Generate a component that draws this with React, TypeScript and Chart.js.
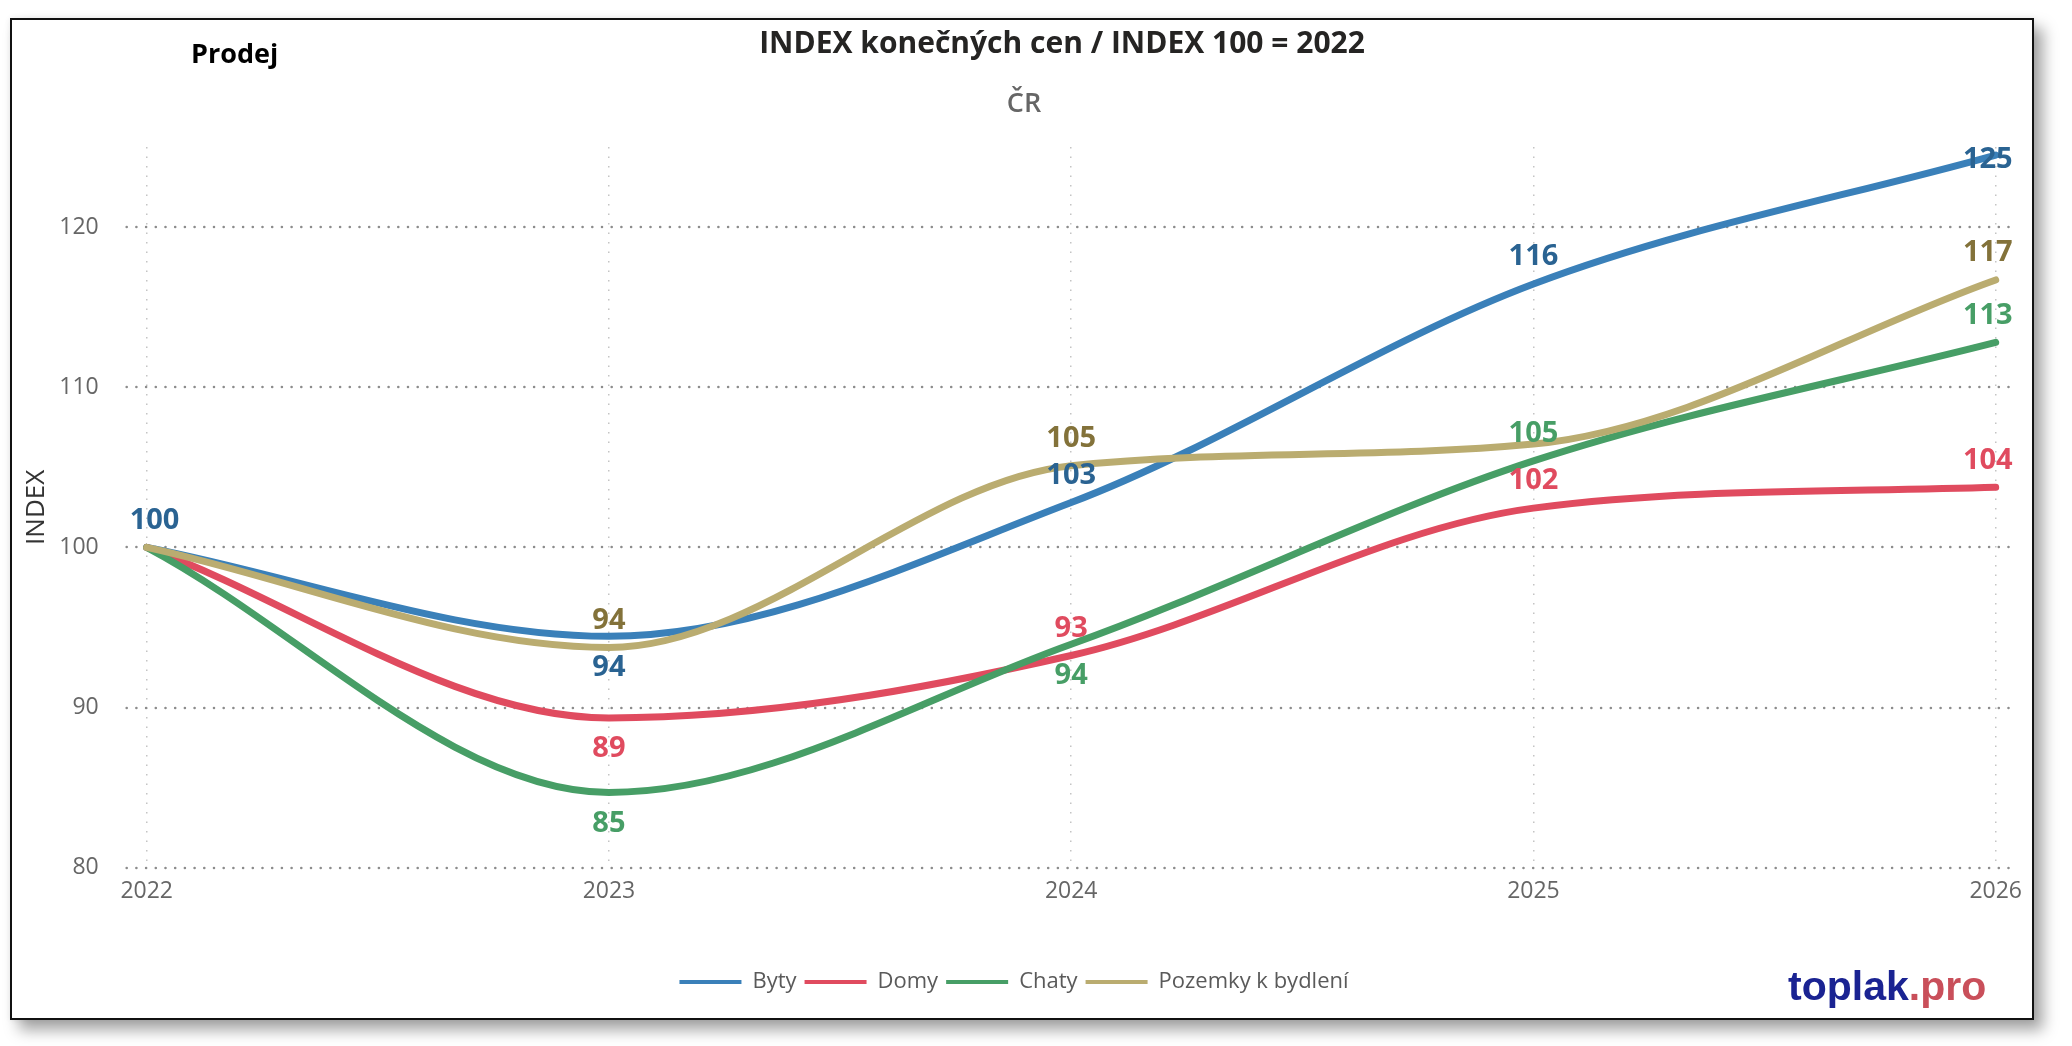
import React, { useEffect, useRef } from "react";
import { Chart, registerables } from "chart.js";

Chart.register(...registerables);

const FONT = "'Open Sans', 'Noto Sans', sans-serif";

const YEARS = ["2022", "2023", "2024", "2025", "2026"];
const BYTY = [100, 94.45, 102.8, 116.45, 124.5];
const DOMY = [100, 89.35, 93.25, 102.45, 103.75];
const CHATY = [100, 84.7, 93.95, 105.4, 112.8];
const POZEMKY = [100, 93.75, 105.1, 106.45, 116.7];
const SERIES_NAMES = ["Byty", "Domy", "Chaty", "Pozemky k bydlení"];
const Y_TICKS = [80, 90, 100, 110, 120];

const LINE_COLORS = ["#3A80B9", "#E04B5F", "#479E66", "#BAAC70"];
const LABEL_COLORS = ["#2A6392", "#E04B5F", "#479E66", "#83723A"];
// where each value label sits relative to its point
const LABEL_PLACE = [
  ["above", "below", "above", "above", "center"],
  ["none", "below", "above", "above", "above"],
  ["none", "below", "below", "above", "above"],
  ["none", "above", "above", "none", "above"],
];

const hGridPlugin = {
  id: "hGrid",
  beforeDatasetsDraw(chart: any) {
    const { ctx, chartArea, scales } = chart;
    const y = scales.y;
    ctx.save();
    ctx.strokeStyle = "#8c8c8c";
    ctx.lineWidth = 2.6;
    ctx.lineCap = "round";
    ctx.setLineDash([0, 9.7]);
    y.ticks.forEach((t: any) => {
      const py = Math.round(y.getPixelForValue(t.value));
      ctx.beginPath();
      ctx.moveTo(chartArea.left - 20, py);
      ctx.lineTo(chartArea.right + 15, py);
      ctx.stroke();
    });
    ctx.restore();
  },
};

const labelPlugin = {
  id: "valueLabels",
  afterDatasetsDraw(chart: any) {
    const { ctx, chartArea } = chart;
    ctx.save();
    ctx.font = `bold 29px ${FONT}`;
    ctx.textAlign = "center";
    ctx.textBaseline = "middle";
    chart.data.datasets.forEach((ds: any, di: number) => {
      const meta = chart.getDatasetMeta(di);
      meta.data.forEach((pt: any, i: number) => {
        const place = LABEL_PLACE[di][i];
        if (place === "none") return;
        const text = String(Math.round(ds.data[i]));
        const w = ctx.measureText(text).width;
        let x = pt.x;
        const maxR = chartArea.right + 17;
        const minL = chartArea.left - 17;
        if (x + w / 2 > maxR) x = maxR - w / 2;
        if (x - w / 2 < minL) x = minL + w / 2;
        const dy = place === "above" ? -27 : place === "below" ? 31 : 5;
        ctx.fillStyle = LABEL_COLORS[di];
        ctx.fillText(text, x, pt.y + dy);
      });
    });
    ctx.restore();
  },
};

export default function App() {
  const ref = useRef<HTMLCanvasElement>(null);

  useEffect(() => {
    document.body.style.margin = "0";
    Chart.defaults.font.family = FONT;
    const series = [BYTY, DOMY, CHATY, POZEMKY];
    const chart = new Chart(ref.current as HTMLCanvasElement, {
      type: "line",
      data: {
        labels: YEARS,
        datasets: series.map((d, i) => ({
          label: SERIES_NAMES[i],
          data: d,
          borderColor: LINE_COLORS[i],
          backgroundColor: LINE_COLORS[i],
          borderWidth: 7,
          pointRadius: 0,
          pointHoverRadius: 0,
          cubicInterpolationMode: "monotone",
          borderCapStyle: "round",
          borderJoinStyle: "round",
          fill: false,
          clip: false,
          order: 3 - i,
        })),
      } as any,
      options: {
        animation: false,
        responsive: false,
        events: [],
        layout: { padding: { top: 127, left: 20, right: 36, bottom: 15 } },
        scales: {
          x: {
            type: "category",
            offset: false,
            grid: { color: "#c4c4c4", lineWidth: 1.5, drawTicks: false },
            border: { display: false, dash: [1.5, 8] },
            ticks: { color: "#666", font: { size: 23 }, padding: 10, maxRotation: 0 },
            afterFit: (s: any) => {
              s.height = 95.3;
            },
          } as any,
          y: {
            type: "linear",
            min: 80,
            max: 125,
            afterBuildTicks: (s: any) => {
              s.ticks = Y_TICKS.map((v) => ({ value: v }));
            },
            grid: { display: false },
            border: { display: false },
            ticks: { color: "#666", font: { size: 23 }, padding: 40 },
            title: {
              display: true,
              text: "INDEX",
              color: "#333",
              font: { size: 26 },
              padding: { top: -10.6, bottom: 0 },
            },
            afterFit: (s: any) => {
              s.width = 114.7;
            },
          } as any,
        },
        plugins: {
          tooltip: { enabled: false },
          title: { display: false },
          legend: {
            position: "bottom",
            labels: {
              boxWidth: 62,
              boxHeight: 4,
              padding: 8,
              color: "#5a5a5a",
              font: { size: 22 },
              sort: (a: any, b: any) => a.datasetIndex - b.datasetIndex,
              generateLabels: (c: any) =>
                (Chart.defaults.plugins.legend.labels.generateLabels as any)(c).map((it: any) => ({
                  ...it,
                  lineWidth: 0,
                })),
            },
          },
        },
      } as any,
      plugins: [hGridPlugin, labelPlugin],
    });
    return () => chart.destroy();
  }, []);

  return (
    <div
      style={{
        position: "relative",
        width: 2072,
        height: 1046,
        overflow: "hidden",
        background: "#fff",
        fontFamily: FONT,
      }}
    >
      <style>{`html,body{margin:0;padding:0;}`}</style>
      <div
        style={{
          position: "absolute",
          left: 10,
          top: 18,
          width: 2024,
          height: 1002,
          boxSizing: "border-box",
          border: "2px solid #111",
          background: "#fff",
          boxShadow: "9px 10px 14px rgba(0,0,0,0.36), 0 0 6px rgba(0,0,0,0.08)",
        }}
      >
        <canvas
          ref={ref}
          width={2020}
          height={998}
          style={{ position: "absolute", left: 0, top: 0, width: 2020, height: 998 }}
        />
        <div
          style={{
            position: "absolute",
            left: 179,
            top: 19,
            fontWeight: 700,
            fontSize: 27,
            lineHeight: 1,
            color: "#000",
            whiteSpace: "nowrap",
          }}
        >
          Prodej
        </div>
        <div
          style={{
            position: "absolute",
            left: 1050,
            top: 7,
            transform: "translateX(-50%)",
            fontWeight: 700,
            fontSize: 30,
            lineHeight: 1,
            color: "#252423",
            whiteSpace: "nowrap",
          }}
        >
          INDEX konečných cen / INDEX 100 = 2022
        </div>
        <div
          style={{
            position: "absolute",
            left: 1012,
            top: 68,
            transform: "translateX(-50%)",
            fontWeight: 600,
            fontSize: 27,
            lineHeight: 1,
            color: "#666",
            whiteSpace: "nowrap",
          }}
        >
          ČR
        </div>
        <div
          style={{
            position: "absolute",
            left: 1776,
            top: 946,
            fontFamily: "'Liberation Sans', Arial, sans-serif",
            fontWeight: 700,
            fontSize: 41,
            lineHeight: 1,
            whiteSpace: "nowrap",
          }}
        >
          <span style={{ color: "#1A2392" }}>toplak</span>
          <span style={{ color: "#C94F5A" }}>.pro</span>
        </div>
      </div>
    </div>
  );
}
